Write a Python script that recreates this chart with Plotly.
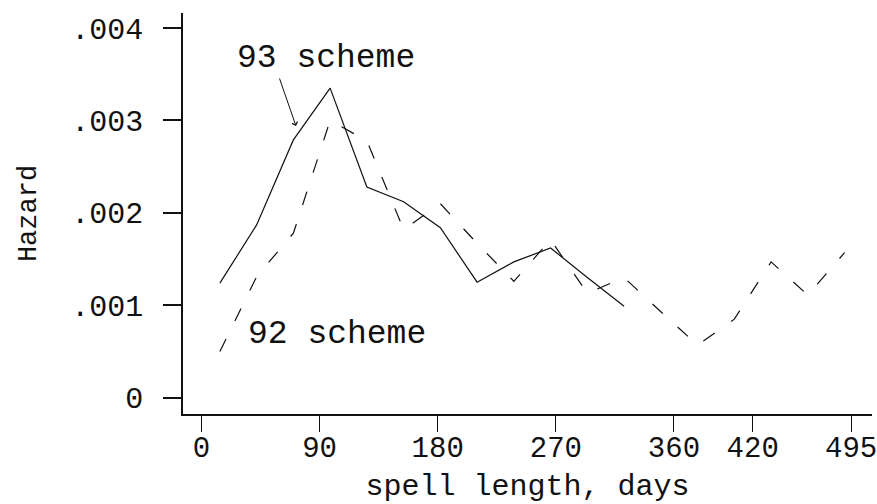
import plotly.graph_objects as go

# Hazard by spell length (4-week intervals, plotted at interval midpoints)
days_93 = [14, 42, 70, 98, 126, 154, 182, 210, 238, 266, 294, 322]
hazard_93 = [0.00124, 0.00187, 0.00279, 0.00335, 0.00228, 0.00212,
             0.00184, 0.00125, 0.00147, 0.00162, 0.00130, 0.00099]

days_92 = [14, 42, 70, 98, 126, 154, 182, 210, 238, 266, 294, 322,
           350, 378, 406, 434, 462, 490]
hazard_92 = [0.00050, 0.00131, 0.00178, 0.00300, 0.00278, 0.00182,
             0.00210, 0.00167, 0.00126, 0.00171, 0.00113, 0.00130,
             0.00093, 0.00057, 0.00085, 0.00147, 0.00111, 0.00157]

x_ticks = [0, 90, 180, 270, 360, 420, 495]
y_ticks = [0, 0.001, 0.002, 0.003, 0.004]
y_tick_text = ["0", ".001", ".002", ".003", ".004"]

FONT = "Liberation Mono"
INK = "#111111"

fig = go.Figure()

fig.add_trace(go.Scatter(
    x=days_93, y=hazard_93, mode="lines", name="93 scheme",
    line=dict(color=INK, width=1.2),
))
fig.add_trace(go.Scatter(
    x=days_92, y=hazard_92, mode="lines", name="92 scheme",
    line=dict(color=INK, width=1.2, dash="14px,20px"),
))

# series labels
fig.add_annotation(x=95, y=0.003676, text="93 scheme", showarrow=False,
                   font=dict(family=FONT, size=33, color=INK))
fig.add_annotation(x=72, y=0.00294, text="", showarrow=True,
                   ax=-17, ay=-49, arrowhead=4, arrowsize=1.1,
                   arrowwidth=1, arrowcolor=INK)
fig.add_annotation(x=103, y=0.000679, text="92 scheme", showarrow=False,
                   font=dict(family=FONT, size=33, color=INK))

fig.update_layout(
    width=877, height=504,
    margin=dict(l=183, r=0, t=13, b=90),
    paper_bgcolor="white", plot_bgcolor="white",
    showlegend=False,
    font=dict(family=FONT, color=INK),
    xaxis=dict(
        range=[-14.1, 510.9],
        tickvals=x_ticks, ticktext=[str(v) for v in x_ticks],
        ticks="outside", ticklen=16, tickwidth=1, tickcolor=INK,
        showline=True, linecolor=INK, linewidth=1.5,
        showgrid=False, zeroline=False,
        tickfont=dict(family=FONT, size=29, color=INK),
        ticklabelstandoff=-10,
        ticklabeloverflow="allow",
        title=dict(text="spell length, days",
                   font=dict(family=FONT, size=30, color=INK), standoff=14),
    ),
    yaxis=dict(
        range=[-0.000176, 0.004163],
        tickvals=y_ticks, ticktext=y_tick_text,
        ticks="outside", ticklen=18, tickwidth=1.5, tickcolor=INK,
        showline=True, linecolor=INK, linewidth=1.5,
        showgrid=False, zeroline=False,
        tickfont=dict(family=FONT, size=30, color=INK),
        ticklabelstandoff=14,
        title=dict(text="Hazard",
                   font=dict(family=FONT, size=27, color=INK), standoff=27),
    ),
)

fig.write_html("out.html")
